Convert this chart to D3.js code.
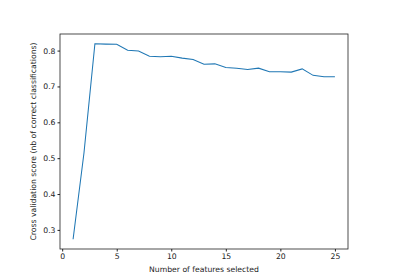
<!DOCTYPE html>
<html>
<head>
<meta charset="utf-8">
<script src="https://cdn.jsdelivr.net/npm/d3@7"></script>
<style>
body { margin: 0; background: #fff; }
svg { display: block; }
.axis text { font-family: "DejaVu Sans", sans-serif; font-size: 7.7px; fill: #222; }
.axis path, .axis line { stroke: #222; }
.lbl { font-family: "DejaVu Sans", sans-serif; font-size: 7.7px; fill: #222; }
</style>
</head>
<body>
<div id="chart"></div>
<script>
// number of features vs cross validation score
var nFeatures = [1,2,3,4,5,6,7,8,9,10,11,12,13,14,15,16,17,18,19,20,21,22,23,24,25];
var scores = [0.274,0.515,0.819,0.818,0.8175,0.801,0.799,0.784,0.783,0.784,0.779,0.775,0.762,0.763,0.753,0.751,0.747,0.751,0.741,0.741,0.740,0.749,0.731,0.727,0.727];
var xTicks = [0,5,10,15,20,25];
var yTicks = [0.3,0.4,0.5,0.6,0.7,0.8];

var width = 400, height = 280;
var margin = {left: 60, right: 52, top: 34, bottom: 31};

var svg = d3.select("#chart").append("svg")
	.attr("width", width)
	.attr("height", height);

var xMin = d3.min(nFeatures), xMax = d3.max(nFeatures);
var yMin = d3.min(scores), yMax = d3.max(scores);
var xPad = (xMax - xMin) * 0.05, yPad = (yMax - yMin) * 0.05;

var x = d3.scaleLinear().domain([xMin - xPad, xMax + xPad]).range([margin.left, width - margin.right]);
var y = d3.scaleLinear().domain([yMin - yPad, yMax + yPad]).range([height - margin.bottom, margin.top]);

var xAxis = svg.append("g").attr("class", "axis")
	.attr("transform", "translate(0," + (height - margin.bottom) + ")")
	.call(d3.axisBottom(x).tickValues(xTicks).tickFormat(d3.format("d")).tickSize(2.5).tickPadding(2));
xAxis.select(".domain").remove();

var yAxis = svg.append("g").attr("class", "axis")
	.attr("transform", "translate(" + margin.left + ",0)")
	.call(d3.axisLeft(y).tickValues(yTicks).tickFormat(d3.format(".1f")).tickSize(2.5).tickPadding(2));
yAxis.select(".domain").remove();

// frame
svg.append("rect")
	.attr("x", margin.left).attr("y", margin.top)
	.attr("width", width - margin.left - margin.right)
	.attr("height", height - margin.top - margin.bottom)
	.attr("fill", "none").attr("stroke", "#222").attr("stroke-width", 0.8);

var line = d3.line()
	.x(function (d, i) { return x(nFeatures[i]); })
	.y(function (d) { return y(d); });

svg.append("path")
	.datum(scores)
	.attr("d", line)
	.attr("fill", "none")
	.attr("stroke", "#1f77b4")
	.attr("stroke-width", 1.05);

svg.append("text").attr("class", "lbl")
	.attr("x", (margin.left + width - margin.right) / 2)
	.attr("y", 272)
	.attr("text-anchor", "middle")
	.text("Number of features selected");

svg.append("text").attr("class", "lbl")
	.attr("transform", "translate(36," + ((margin.top + height - margin.bottom) / 2) + ") rotate(-90)")
	.attr("text-anchor", "middle")
	.text("Cross validation score (nb of correct classifications)");
</script>
</body>
</html>
